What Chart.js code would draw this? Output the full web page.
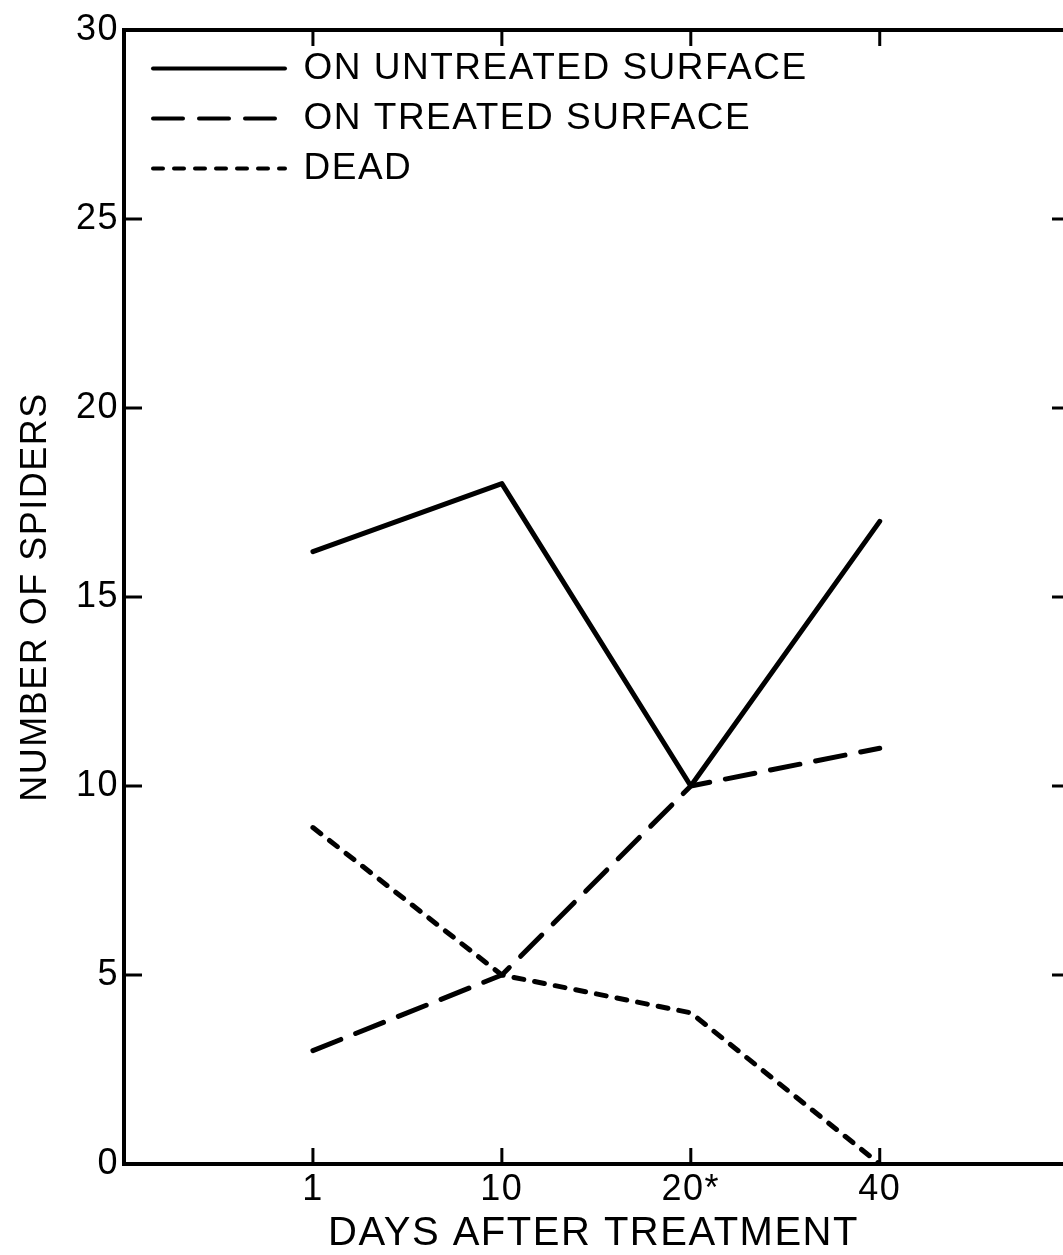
<!DOCTYPE html>
<html><head><meta charset="utf-8">
<script src="https://cdn.jsdelivr.net/npm/chart.js@4.4.1/dist/chart.umd.min.js"></script>
<style>html,body{margin:0;padding:0;background:#fff;overflow:hidden}canvas{display:block}</style>
</head><body>
<canvas id="c" width="1063" height="1255" style="width:1063px;height:1255px"></canvas>
<script>
const categories = ['1', '10', '20*', '40'];
const untreated = [16.2, 18, 10, 17];
const treated = [3, 5, 10, 11];
const dead = [8.9, 5, 4, 0];
const yTicks = [0, 5, 10, 15, 20, 25, 30];
const seriesNames = ['ON UNTREATED SURFACE', 'ON TREATED SURFACE', 'DEAD'];
const xTitle = 'DAYS AFTER TREATMENT';
const yTitle = 'NUMBER OF SPIDERS';

const toPoints = arr => arr.map((v, i) => ({x: i + 1, y: v}));
const FONT = "'Liberation Sans', Arial, sans-serif";
const SPACING = '1.5px';

const spacingPlugin = {
  id: 'spacing',
  beforeUpdate(c) { c.ctx.letterSpacing = SPACING; },
  beforeLayout(c) { c.ctx.letterSpacing = SPACING; },
  beforeDraw(c) {
    c.ctx.letterSpacing = SPACING;
    const ctx = c.ctx;
    ctx.save();
    ctx.fillStyle = '#fff';
    ctx.fillRect(0, 0, c.width, c.height);
    ctx.restore();
  }
};

const legendShift = {
  id: 'legendShift',
  afterLayout(c) {
    if (c.legend) { c.legend.left += 16; c.legend.top = c.chartArea.top + 7; }
  }
};

const framePlugin = {
  id: 'frame',
  afterDraw(chart) {
    const {ctx, chartArea: {left, right, top, bottom}, scales: {x, y}} = chart;
    ctx.save();
    ctx.strokeStyle = '#000';
    ctx.lineCap = 'butt';
    const line = (x1, y1, x2, y2) => { ctx.beginPath(); ctx.moveTo(x1, y1); ctx.lineTo(x2, y2); ctx.stroke(); };
    ctx.lineWidth = 4;
    line(left - 2, top, right, top);
    ctx.lineWidth = 3;
    yTicks.forEach(v => {
      if (v === yTicks[0] || v === yTicks[yTicks.length - 1]) return;
      const py = y.getPixelForValue(v);
      line(left, py, left + 18, py);
      line(right - 11, py, right, py);
    });
    categories.forEach((c, i) => {
      const px = x.getPixelForValue(i + 1);
      line(px, bottom, px, bottom - 16);
      line(px, top, px, top + 16);
    });
    ctx.restore();
  }
};

const common = {borderColor: '#000', backgroundColor: '#000', borderWidth: 5, pointRadius: 0, pointHoverRadius: 0, tension: 0, fill: false, borderCapStyle: 'round', borderJoinStyle: 'round'};

new Chart(document.getElementById('c'), {
  type: 'line',
  data: {
    datasets: [
      Object.assign({label: seriesNames[0], data: toPoints(untreated)}, common),
      Object.assign({label: seriesNames[1], data: toPoints(treated), borderDash: [30, 16]}, common),
      Object.assign({label: seriesNames[2], data: toPoints(dead), borderDash: [10, 11]}, common)
    ]
  },
  options: {
    responsive: false,
    animation: false,
    devicePixelRatio: 1,
    layout: {padding: {top: 30, left: 0, right: 0, bottom: 0}},
    plugins: {
      tooltip: {enabled: false},
      legend: {
        position: 'chartArea',
        align: 'start',
        labels: {
          usePointStyle: true,
          pointStyle: 'line',
          pointStyleWidth: 132,
          color: '#000',
          padding: 13,
          font: {size: 37, family: FONT},
          generateLabels: chart => chart.data.datasets.map((d, i) => ({
            text: d.label,
            datasetIndex: i,
            hidden: false,
            fillStyle: d.borderColor,
            strokeStyle: d.borderColor,
            fontColor: '#000',
            lineWidth: 4,
            lineDash: d.borderDash || [],
            lineCap: 'round',
            pointStyle: 'line'
          }))
        }
      }
    },
    scales: {
      x: {
        type: 'linear',
        min: 0,
        max: 4.97,
        afterBuildTicks: s => { s.ticks = categories.map((c, i) => ({value: i + 1})); },
        ticks: {callback: v => categories[v - 1] ?? '', font: {size: 36, family: FONT}, color: '#000', padding: 4, autoSkip: false, maxRotation: 0},
        grid: {display: false, drawTicks: false},
        border: {display: true, color: '#000', width: 4},
        title: {display: true, text: xTitle, font: {size: 40, family: FONT}, color: '#000', padding: {top: 0, bottom: -3}},
        afterFit: s => { s.height = 91; }
      },
      y: {
        min: 0,
        max: 30,
        afterBuildTicks: s => { s.ticks = yTicks.map(v => ({value: v})); },
        ticks: {font: {size: 36, family: FONT}, color: '#000', padding: 5},
        grid: {display: false, drawTicks: false},
        border: {display: true, color: '#000', width: 4},
        title: {display: true, text: yTitle, font: {size: 36, family: FONT}, color: '#000', padding: {top: 14, bottom: 0}},
        afterFit: s => { s.width = 124; }
      }
    }
  },
  plugins: [spacingPlugin, legendShift, framePlugin]
});
</script>
</body></html>
